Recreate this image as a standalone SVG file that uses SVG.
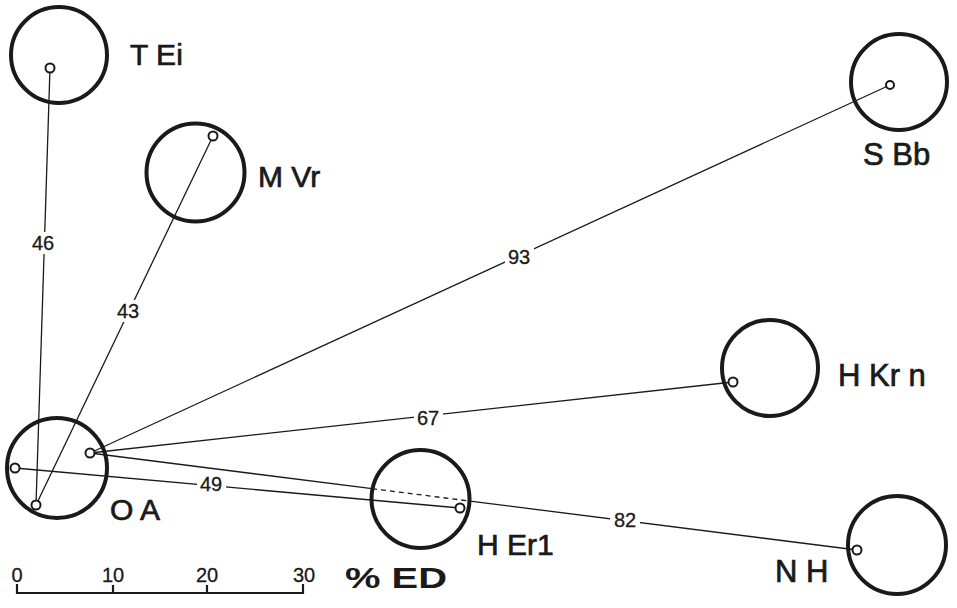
<svg xmlns="http://www.w3.org/2000/svg" width="957" height="608" viewBox="0 0 957 608">
<style>
.ring{fill:none;stroke:#1a1a1a;stroke-width:4}
.dot{fill:#fff;stroke:#1a1a1a;stroke-width:2}
.ln{stroke:#1a1a1a;stroke-width:1.3;fill:none}
.dash{stroke:#1a1a1a;stroke-width:1.3;fill:none;stroke-dasharray:5 4}
.lbl{font-family:"Liberation Sans",Arial,sans-serif;font-size:30px;fill:#1a1a1a;stroke:#1a1a1a;stroke-width:0.7}
.num{font-family:"Liberation Sans",Arial,sans-serif;font-size:20px;fill:#1a1a1a;text-anchor:middle;stroke:#1a1a1a;stroke-width:0.3}
.bg{fill:#fff}
</style>
<rect width="957" height="608" fill="#fff"/>
<g id="connectors">
<line class="ln" x1="50" y1="68" x2="36" y2="505"/>
<line class="ln" x1="213" y1="136" x2="36" y2="505"/>
<line class="ln" x1="90" y1="453" x2="890" y2="85"/>
<line class="ln" x1="90" y1="453" x2="733" y2="382"/>
<line class="ln" x1="15" y1="468" x2="460" y2="508"/>
<line class="ln" x1="90" y1="453" x2="372" y2="488.7"/>
<line class="dash" x1="372" y1="488.7" x2="470" y2="501.1"/>
<line class="ln" x1="470" y1="501.1" x2="857" y2="550"/>
<rect class="bg" x="30" y="232" width="27" height="22"/>
<text class="num" x="43" y="250">46</text>
<rect class="bg" x="114" y="300" width="28" height="22"/>
<text class="num" x="128" y="318">43</text>
<rect class="bg" x="505" y="246" width="29" height="22"/>
<text class="num" x="519" y="264">93</text>
<rect class="bg" x="414" y="407" width="29" height="22"/>
<text class="num" x="428" y="425">67</text>
<rect class="bg" x="197" y="474" width="29" height="20"/>
<text class="num" x="211" y="491">49</text>
<rect class="bg" x="610" y="509" width="30" height="22"/>
<text class="num" x="625" y="527">82</text>
</g>
<g id="TEi">
<circle class="ring" cx="59" cy="55" r="48"/>
<circle class="dot" cx="50" cy="68" r="4.5"/>
<text class="lbl" x="130" y="65">T Ei</text>
</g>
<g id="MVr">
<circle class="ring" cx="195.5" cy="172.5" r="49"/>
<circle class="dot" cx="213" cy="136" r="4.5"/>
<text class="lbl" x="258" y="187">M Vr</text>
</g>
<g id="OA">
<circle class="ring" cx="57" cy="468" r="50"/>
<circle class="dot" cx="15" cy="468" r="4.5"/>
<circle class="dot" cx="90" cy="453" r="4.5"/>
<circle class="dot" cx="36" cy="505" r="4.5"/>
<text class="lbl" x="110" y="520">O A</text>
</g>
<g id="HEr1">
<circle class="ring" cx="420.5" cy="499" r="49"/>
<circle class="dot" cx="460" cy="508" r="4.5"/>
<text class="lbl" x="477" y="555">H Er1</text>
</g>
<g id="SBb">
<circle class="ring" cx="899" cy="82" r="48"/>
<circle class="dot" cx="890" cy="85" r="4"/>
<text class="lbl" x="863" y="165" style="font-size:31px">S Bb</text>
</g>
<g id="HKrn">
<circle class="ring" cx="770" cy="368" r="48"/>
<circle class="dot" cx="733" cy="382" r="4.5"/>
<text class="lbl" x="838" y="386" style="font-size:31px">H Kr n</text>
</g>
<g id="NH">
<circle class="ring" cx="897" cy="545" r="49"/>
<circle class="dot" cx="857" cy="550" r="4.5"/>
<text class="lbl" x="775" y="582" style="font-size:31px">N H</text>
</g>
<g id="scale">
<path class="ln" style="stroke-width:2.2" d="M17,584 V593 H303 V584 M113,593 V585 M207,593 V585"/>
<text class="num" x="17" y="582">0</text>
<text class="num" x="113" y="582">10</text>
<text class="num" x="207" y="582">20</text>
<text class="num" x="304" y="582">30</text>
<text x="345" y="588" textLength="102" lengthAdjust="spacingAndGlyphs" style="font-family:'Liberation Sans',Arial,sans-serif;font-size:29px;font-weight:bold;fill:#1a1a1a">% ED</text>
</g>
</svg>
